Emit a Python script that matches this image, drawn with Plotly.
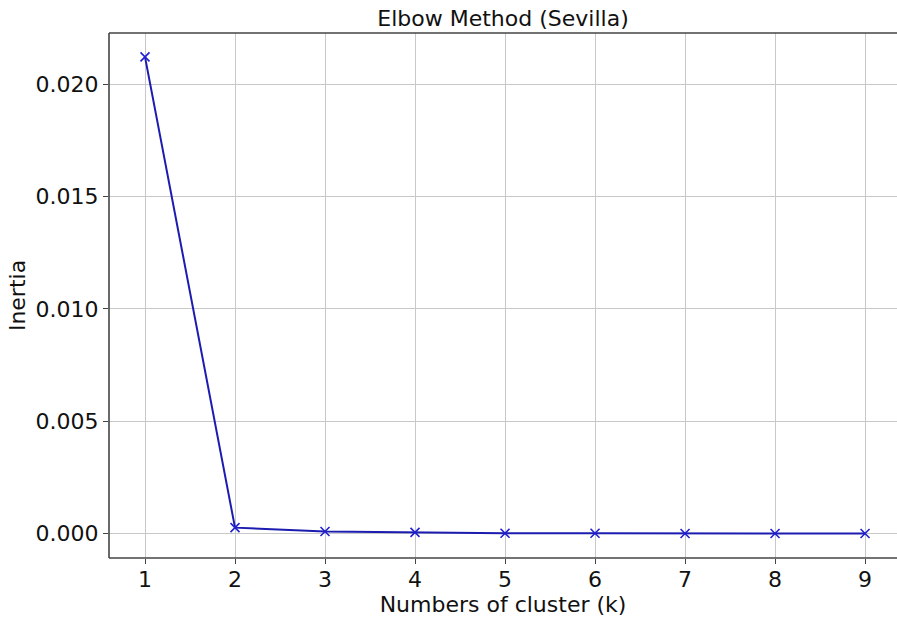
import plotly.graph_objects as go

k_values = [1, 2, 3, 4, 5, 6, 7, 8, 9]
inertia = [0.02121, 0.00027, 0.00010, 0.00006, 0.00002, 0.00002, 0.00001, 0.00001, 0.00001]
y_ticks = [0.000, 0.005, 0.010, 0.015, 0.020]
y_tick_text = ["0.000", "0.005", "0.010", "0.015", "0.020"]

FONT = "DejaVu Sans"
LINE_COLOR = "#1c1cb0"
SPINE = "#444444"

fig = go.Figure()
fig.add_trace(go.Scatter(
    x=k_values, y=inertia, mode="lines+markers",
    line=dict(color=LINE_COLOR, width=2),
    marker=dict(symbol="x-thin", size=9, line=dict(color="#2020d0", width=1.6)),
    showlegend=False,
))

axis_common = dict(
    showgrid=True, gridcolor="#c8c8c8", gridwidth=1.4,
    zeroline=False, showline=False,
    ticks="outside", ticklen=5, tickwidth=1.3, tickcolor=SPINE,
    tickfont=dict(family=FONT, size=22, color="#111111"),
)

fig.update_layout(
    width=897, height=619,
    margin=dict(l=109, r=0, t=33, b=61),
    paper_bgcolor="white", plot_bgcolor="white",
    title=dict(text="Elbow Method (Sevilla)", font=dict(family=FONT, size=22, color="#111111"),
               x=0.5, xref="paper", xanchor="center", y=1, yref="paper", yanchor="bottom",
               pad=dict(b=7)),
    xaxis=dict(range=[0.6, 9.355], tickvals=k_values, ticklabelstandoff=-3,
               title=dict(text="Numbers of cluster (k)", font=dict(family=FONT, size=22, color="#111111"), standoff=5),
               **axis_common),
    yaxis=dict(range=[-0.00108, 0.02227], tickvals=y_ticks, ticktext=y_tick_text,
               title=dict(text="Inertia", font=dict(family=FONT, size=22, color="#111111"), standoff=3),
               **axis_common),
    shapes=[
        dict(type="line", xref="paper", yref="paper", x0=0, x1=1.01, y0=1, y1=1,
             line=dict(color=SPINE, width=1.6)),
        dict(type="line", xref="paper", yref="paper", x0=0, x1=1.01, y0=0, y1=0,
             line=dict(color=SPINE, width=1.6)),
        dict(type="line", xref="paper", yref="paper", x0=0, x1=0, y0=0, y1=1,
             line=dict(color=SPINE, width=1.6)),
    ],
)

fig.write_html("out.html")
